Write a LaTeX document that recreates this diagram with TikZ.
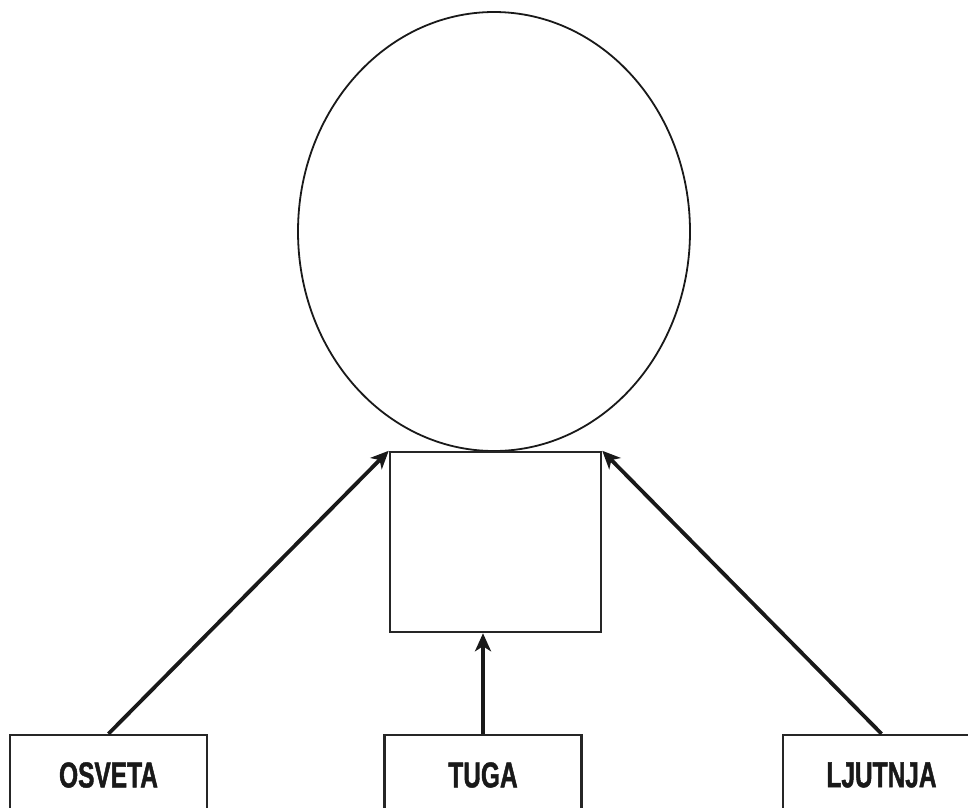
\documentclass[tikz,border=0pt]{standalone}
\usepackage{fontspec}
\newfontfamily\condfont[FakeStretch=0.68,FakeBold=1.2]{Liberation Sans}
\usetikzlibrary{shapes.geometric,arrows.meta}
\begin{document}
\begin{tikzpicture}[x=1pt,y=-1pt,
  labelbox/.style={draw=black!85, line width=2.5pt, minimum width=197pt, minimum height=80pt,
    inner sep=0pt, font=\condfont\bfseries\fontsize{36}{42}\selectfont, text=black!90},
  arrowline/.style={line width=3.8pt, draw=black!90, -{Stealth[length=18pt,width=16pt,inset=5pt]}}]
\useasboundingbox (0,0) rectangle (968,807);
\clip (0,0) rectangle (968,807);
\fill[white] (0,0) rectangle (968,807);
\node[ellipse, draw=black!90, line width=1.8pt, minimum width=392pt, minimum height=439pt, inner sep=0pt] (top) at (494,231.5) {};
\node[draw=black!85, line width=2.5pt, minimum width=211pt, minimum height=180pt, inner sep=0pt] (mid) at (495.5,542) {};
\node[labelbox] (osveta) at (108.5,775) {OSVETA};
\node[labelbox] (tuga) at (483,775) {TUGA};
\node[labelbox] (ljutnja) at (881.5,775) {LJUTNJA};
\draw[arrowline] (osveta.north) -- (mid.north west);
\draw[arrowline] (ljutnja.north) -- (mid.north east);
\draw[arrowline] (tuga.north) -- (tuga.north |- mid.south);
\end{tikzpicture}
\end{document}
